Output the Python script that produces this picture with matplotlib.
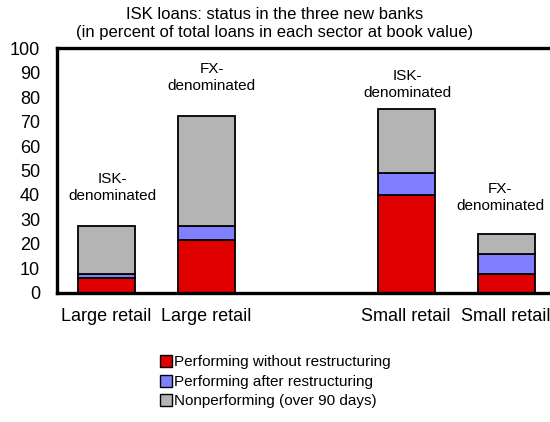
import matplotlib.pyplot as plt
import numpy as np
from matplotlib.patches import Patch

plt.rcParams['font.family'] = ['Liberation Sans', 'DejaVu Sans']

# data (percent of total loans)
categories = ['Large retail', 'Large retail', '', 'Small retail', 'Small retail']
notes = ['ISK-\ndenominated', 'FX-\ndenominated', '', 'ISK-\ndenominated', 'FX-\ndenominated']
performing = [5.9, 21.4, np.nan, 39.9, 7.6]
restructured = [2.0, 5.8, np.nan, 9.1, 8.4]
nonperforming = [19.3, 45.2, np.nan, 26.2, 8.2]
series_names = ['Performing without restructuring',
                'Performing after restructuring',
                'Nonperforming (over 90 days)']
colors = ['#E00000', '#8080FF', '#B4B4B4']

fig = plt.figure(figsize=(5.5, 4.22), dpi=100)
ax = fig.add_axes([0.103, 0.306, 0.908, 0.58])

x = np.arange(len(categories))
keep = ~np.isnan(performing)
bottom = np.zeros(len(categories))
for vals, col in zip([performing, restructured, nonperforming], colors):
    vals = np.array(vals)
    ax.bar(x[keep], vals[keep], bottom=bottom[keep], width=0.57, color=col,
           edgecolor='black', linewidth=1.3)
    bottom = bottom + np.nan_to_num(vals)

# labels above the bars
note_y = [43, 88, 0, 85, 39]
note_dx = [0.06, 0.05, 0, 0.01, -0.06]
for i, t in enumerate(notes):
    if t:
        ax.text(x[i] + note_dx[i], note_y[i], t, ha='center', va='center',
                fontsize=11, linespacing=1.25)

ax.set_xlim(-0.5, len(categories) - 0.5)
ax.set_ylim(0, 100)
ax.set_yticks(np.arange(0, 101, 10))
ax.set_xticks(x[keep])
ax.set_xticklabels(np.array(categories)[keep])
ax.tick_params(axis='y', length=0, pad=12, labelsize=13)
ax.tick_params(axis='x', length=0, pad=11, labelsize=13)
ax.spines['right'].set_visible(False)
for s in ['left', 'top', 'bottom']:
    ax.spines[s].set_linewidth(2.4)

fig.text(0.5, 0.965, 'ISK loans: status in the three new banks',
         ha='center', va='center', fontsize=12)
fig.text(0.5, 0.922, '(in percent of total loans in each sector at book value)',
         ha='center', va='center', fontsize=12)

handles = [Patch(facecolor=c, edgecolor='black', linewidth=1) for c in colors]
fig.legend(handles, series_names, loc='upper left', bbox_to_anchor=(0.29, 0.158),
           frameon=False, fontsize=11, handlelength=0.8, handleheight=0.8,
           handletextpad=0.15, labelspacing=0.35, borderpad=0, borderaxespad=0)

fig.savefig('out.png', dpi=100)
